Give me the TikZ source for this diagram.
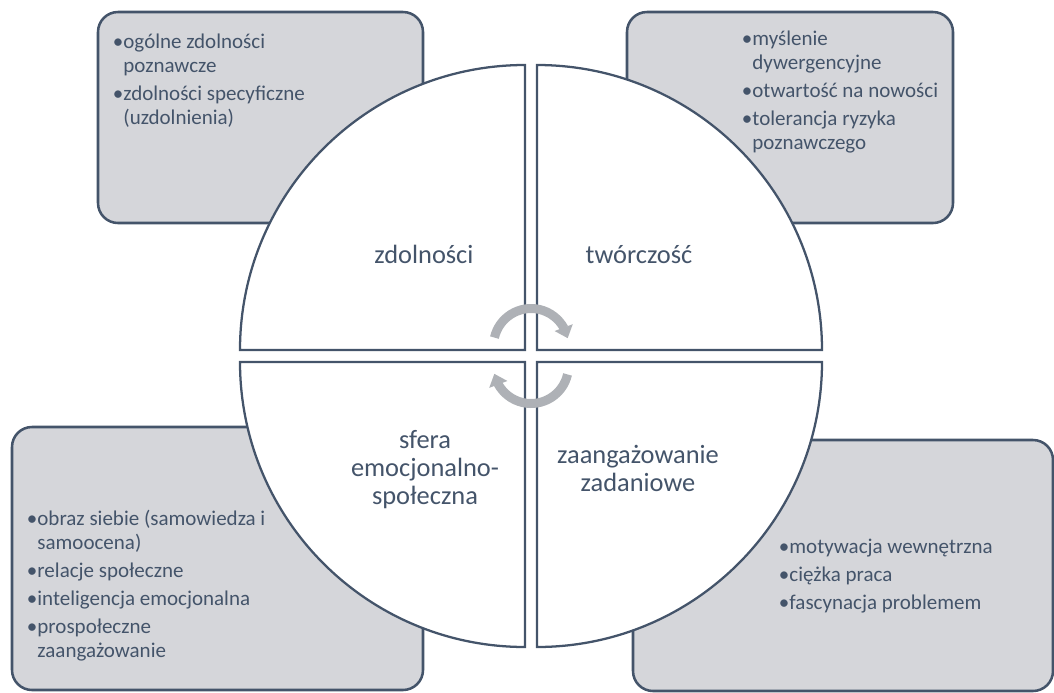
\documentclass[tikz,border=0pt]{standalone}
\usepackage{fontspec}
\setmainfont{Carlito}
\usetikzlibrary{arrows.meta,bending}
\definecolor{dk}{HTML}{44546A}
\definecolor{boxfill}{HTML}{D5D6DA}
\definecolor{arr}{HTML}{AEB1B6}
\newcommand{\bl}[1]{\makebox[8pt][l]{•}#1}
\newcommand{\cl}[1]{\hspace*{8pt}#1}
\newcommand{\lst}[1]{\parbox[t]{300pt}{\raggedright #1}}
\newcommand{\lbl}[1]{\parbox[t]{200pt}{\centering #1}}
\begin{document}
\begin{tikzpicture}[x=0.75pt,y=-0.75pt,
 boxstyle/.style={draw=dk,fill=boxfill,line width=1.9pt,rounded corners=15pt},
 sector/.style={draw=dk,fill=white,line width=1.7pt,line join=miter},
 cyc/.style={draw=arr,line width=6.75pt,-{Triangle[width=14pt,length=8.5pt,flex]}},
 listtext/.style={anchor=base west,inner sep=0pt,text=dk,font=\fontsize{15.75}{18}\selectfont},
 labeltext/.style={anchor=base,inner sep=0pt,text=dk,font=\fontsize{19.8}{21}\selectfont}]
\useasboundingbox (0,0) rectangle (1054,693);
% boxes
\draw[boxstyle] (98,12) rectangle (423,223);
\draw[boxstyle] (627,12) rectangle (953,223);
\draw[boxstyle] (12,427) rectangle (423,690);
\draw[boxstyle] (633,440) rectangle (1053,691);
% sectors
\draw[sector] (525,350) -- (525,65) arc[start angle=270,end angle=180,radius=285] -- cycle;
\draw[sector] (537,350) -- (537,65) arc[start angle=270,end angle=360,radius=285] -- cycle;
\draw[sector] (525,362) -- (240,362) arc[start angle=180,end angle=90,radius=285] -- cycle;
\draw[sector] (537,362) -- (537,647) arc[start angle=90,end angle=0,radius=285] -- cycle;
% cycle arrows
\coordinate (c1) at (531,346);
\coordinate (c2) at (531,366);
\draw[cyc] ([shift={(193:37.5)}]c1) arc[start angle=193,end angle=348,radius=37.5];
\draw[cyc] ([shift={(13:37.5)}]c2) arc[start angle=13,end angle=168,radius=37.5];
% labels
\node[labeltext] (l1) at (424,263) {\lbl{zdolności}};
\node[labeltext] (l2) at (639,263) {\lbl{twórczość}};
\node[labeltext] (l3) at (425,448) {\lbl{sfera\\emocjonalno-\\społeczna}};
\node[labeltext] (l4) at (638,463) {\lbl{zaangażowanie\\zadaniowe}};
% lists
\node[listtext] (t1) at (112.5,48) {\lst{\bl{ogólne zdolności}\\\cl{poznawcze}\\[3pt]\bl{zdolności specyficzne}\\\cl{(uzdolnienia)}}};
\node[listtext] (t2) at (741.5,45) {\lst{\bl{myślenie}\\\cl{dywergencyjne}\\[3pt]\bl{otwartość na nowości}\\[3pt]\bl{tolerancja ryzyka}\\\cl{poznawczego}}};
\node[listtext] (t3) at (26.5,525) {\lst{\bl{obraz siebie (samowiedza i}\\\cl{samoocena)}\\[3pt]\bl{relacje społeczne}\\[3pt]\bl{inteligencja emocjonalna}\\[3pt]\bl{prospołeczne}\\\cl{zaangażowanie}}};
\node[listtext] (t4) at (778.5,553) {\lst{\bl{motywacja wewnętrzna}\\[3pt]\bl{ciężka praca}\\[3pt]\bl{fascynacja problemem}}};
\end{tikzpicture}
\end{document}
